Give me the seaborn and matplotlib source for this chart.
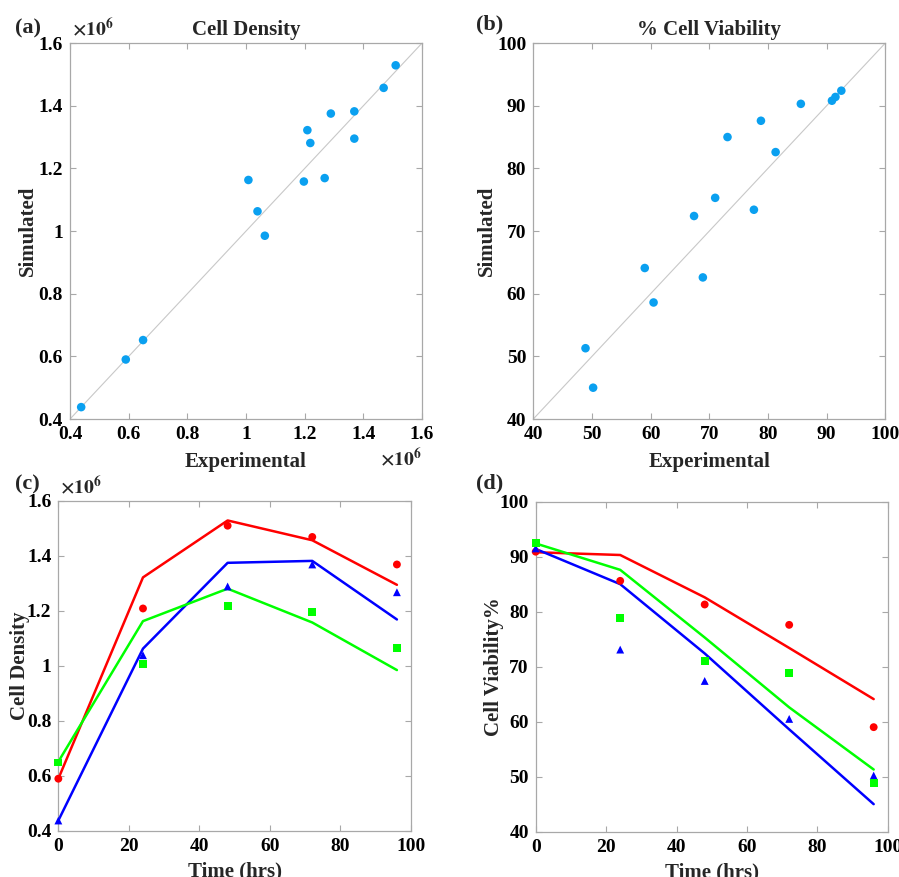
import numpy as np
import pandas as pd
import matplotlib
matplotlib.use('Agg')
import matplotlib.pyplot as plt
import seaborn as sns
from matplotlib.ticker import FuncFormatter

# ---------------- data ----------------
time_hrs = [0, 24, 48, 72, 96]
cond_names = ['Condition 1', 'Condition 2', 'Condition 3']
cond_colors = ['#ff0000', '#0000ff', '#00ff00']
cond_markers = ['o', '^', 's']

# cell density, in units of 1e6
density_exp = [
    [0.590, 1.209, 1.510, 1.469, 1.369],
    [0.438, 1.039, 1.289, 1.369, 1.268],
    [0.649, 1.008, 1.219, 1.197, 1.064],
]
density_sim = [
    [0.590, 1.322, 1.529, 1.457, 1.295],
    [0.438, 1.063, 1.375, 1.382, 1.169],
    [0.652, 1.163, 1.281, 1.158, 0.985],
]
# cell viability %
viability_exp = [
    [90.9, 85.6, 81.3, 77.6, 59.0],
    [91.5, 73.1, 67.4, 60.5, 50.2],
    [92.5, 78.8, 71.0, 68.9, 48.9],
]
viability_sim = [
    [90.8, 90.3, 82.6, 73.4, 64.1],
    [91.4, 85.0, 72.4, 58.6, 45.0],
    [92.4, 87.6, 75.3, 62.6, 51.3],
]

density_ticks = [0.4, 0.6, 0.8, 1.0, 1.2, 1.4, 1.6]
viability_ticks = [40, 50, 60, 70, 80, 90, 100]
time_ticks = [0, 20, 40, 60, 80, 100]

rows = []
for i, c in enumerate(cond_names):
    for j, t in enumerate(time_hrs):
        rows.append(dict(cond=c, time=t,
                         dens_exp=density_exp[i][j], dens_sim=density_sim[i][j],
                         via_exp=viability_exp[i][j], via_sim=viability_sim[i][j]))
df = pd.DataFrame(rows)
palette = dict(zip(cond_names, cond_colors))
markers = dict(zip(cond_names, cond_markers))

# ---------------- style ----------------
sns.set_theme(style='white')
plt.rcParams['font.family'] = ['Liberation Serif', 'DejaVu Serif']
plt.rcParams['font.weight'] = 'bold'
plt.rcParams['axes.labelweight'] = 'bold'
plt.rcParams['axes.titleweight'] = 'bold'
plt.rcParams['mathtext.fontset'] = 'stix'

fig = plt.figure(figsize=(8.99, 8.77), dpi=100)
axA = fig.add_axes([0.0779, 0.5222, 0.3916, 0.4287])
axB = fig.add_axes([0.5932, 0.5222, 0.3916, 0.4287])
axC = fig.add_axes([0.0649, 0.0525, 0.3923, 0.3763])
axD = fig.add_axes([0.5959, 0.0517, 0.3916, 0.3763])

SPINE = '#a8a8a8'
fmt = FuncFormatter(lambda v, p: f'{round(v, 2):g}')


def style(ax, xlim, ylim, xticks, yticks):
    ax.set_xlim(xlim)
    ax.set_ylim(ylim)
    ax.set_xticks(xticks)
    ax.set_yticks(yticks)
    ax.xaxis.set_major_formatter(fmt)
    ax.yaxis.set_major_formatter(fmt)
    for s in ax.spines.values():
        s.set_visible(True)
        s.set_color(SPINE)
        s.set_linewidth(0.9)
    ax.tick_params(direction='in', length=4, width=0.8, color=SPINE,
                   top=True, right=True, bottom=True, left=True,
                   labelsize=14, pad=5, labelcolor='black')
    for lab in ax.get_xticklabels() + ax.get_yticklabels():
        lab.set_fontweight('bold')
    ax.grid(False)


scatter_blue = '#0aa0f0'

# (a)
axA.axline((0, 0), (1, 1), color='#c8c8c8', lw=0.8, zorder=1)
sns.scatterplot(data=df, x='dens_exp', y='dens_sim', color=scatter_blue, s=38,
                edgecolor='none', legend=False, ax=axA, zorder=3)
style(axA, (0.4, 1.6), (0.4, 1.6), density_ticks, density_ticks)
axA.set_title('Cell Density', fontsize=15, fontweight='bold', pad=6)
axA.set_xlabel('Experimental', fontsize=15, fontweight='bold')
axA.set_ylabel('Simulated', fontsize=15, fontweight='bold')
axA.xaxis.set_label_coords(0.5, -0.088)
axA.yaxis.set_label_coords(-0.090, 0.5)
axA.text(0.005, 1.008, r'$\times10^{6}$', transform=axA.transAxes,
         ha='left', va='bottom', fontsize=14)
axA.text(1.0, -0.135, r'$\times10^{6}$', transform=axA.transAxes,
         ha='right', va='bottom', fontsize=14)

# (b)
axB.axline((0, 0), (1, 1), color='#c8c8c8', lw=0.8, zorder=1)
sns.scatterplot(data=df, x='via_exp', y='via_sim', color=scatter_blue, s=38,
                edgecolor='none', legend=False, ax=axB, zorder=3)
style(axB, (40, 100), (40, 100), viability_ticks, viability_ticks)
axB.set_title('% Cell Viability', fontsize=15, fontweight='bold', pad=6)
axB.set_xlabel('Experimental', fontsize=15, fontweight='bold')
axB.set_ylabel('Simulated', fontsize=15, fontweight='bold')
axB.xaxis.set_label_coords(0.5, -0.088)
axB.yaxis.set_label_coords(-0.103, 0.5)

# (c)
sns.lineplot(data=df, x='time', y='dens_sim', hue='cond', palette=palette,
             lw=1.8, legend=False, ax=axC, estimator=None, sort=False, zorder=2)
sns.scatterplot(data=df, x='time', y='dens_exp', hue='cond', style='cond',
                palette=palette, markers=markers, s=32, edgecolor='none',
                legend=False, ax=axC, clip_on=False, zorder=3)
style(axC, (0, 100), (0.4, 1.6), time_ticks, density_ticks)
axC.set_xlabel('Time (hrs)', fontsize=15, fontweight='bold')
axC.set_ylabel('Cell Density', fontsize=15, fontweight='bold')
axC.xaxis.set_label_coords(0.5, -0.092)
axC.yaxis.set_label_coords(-0.079, 0.5)
axC.text(0.005, 1.01, r'$\times10^{6}$', transform=axC.transAxes,
         ha='left', va='bottom', fontsize=14)

# (d)
sns.lineplot(data=df, x='time', y='via_sim', hue='cond', palette=palette,
             lw=1.8, legend=False, ax=axD, estimator=None, sort=False, zorder=2)
sns.scatterplot(data=df, x='time', y='via_exp', hue='cond', style='cond',
                palette=palette, markers=markers, s=32, edgecolor='none',
                legend=False, ax=axD, clip_on=False, zorder=3)
style(axD, (0, 100), (40, 100), time_ticks, viability_ticks)
axD.set_xlabel('Time (hrs)', fontsize=15, fontweight='bold')
axD.set_ylabel('Cell Viability%', fontsize=15, fontweight='bold')
axD.xaxis.set_label_coords(0.5, -0.092)
axD.yaxis.set_label_coords(-0.090, 0.5)

# panel letters
for (x, y, s) in [(28, 28, '(a)'), (490, 24, '(b)'), (27, 484, '(c)'), (490, 483, '(d)')]:
    fig.text(x / 899, 1 - y / 877, s, ha='center', va='center',
             fontsize=16, fontweight='bold')

fig.savefig('out.png', dpi=100)
